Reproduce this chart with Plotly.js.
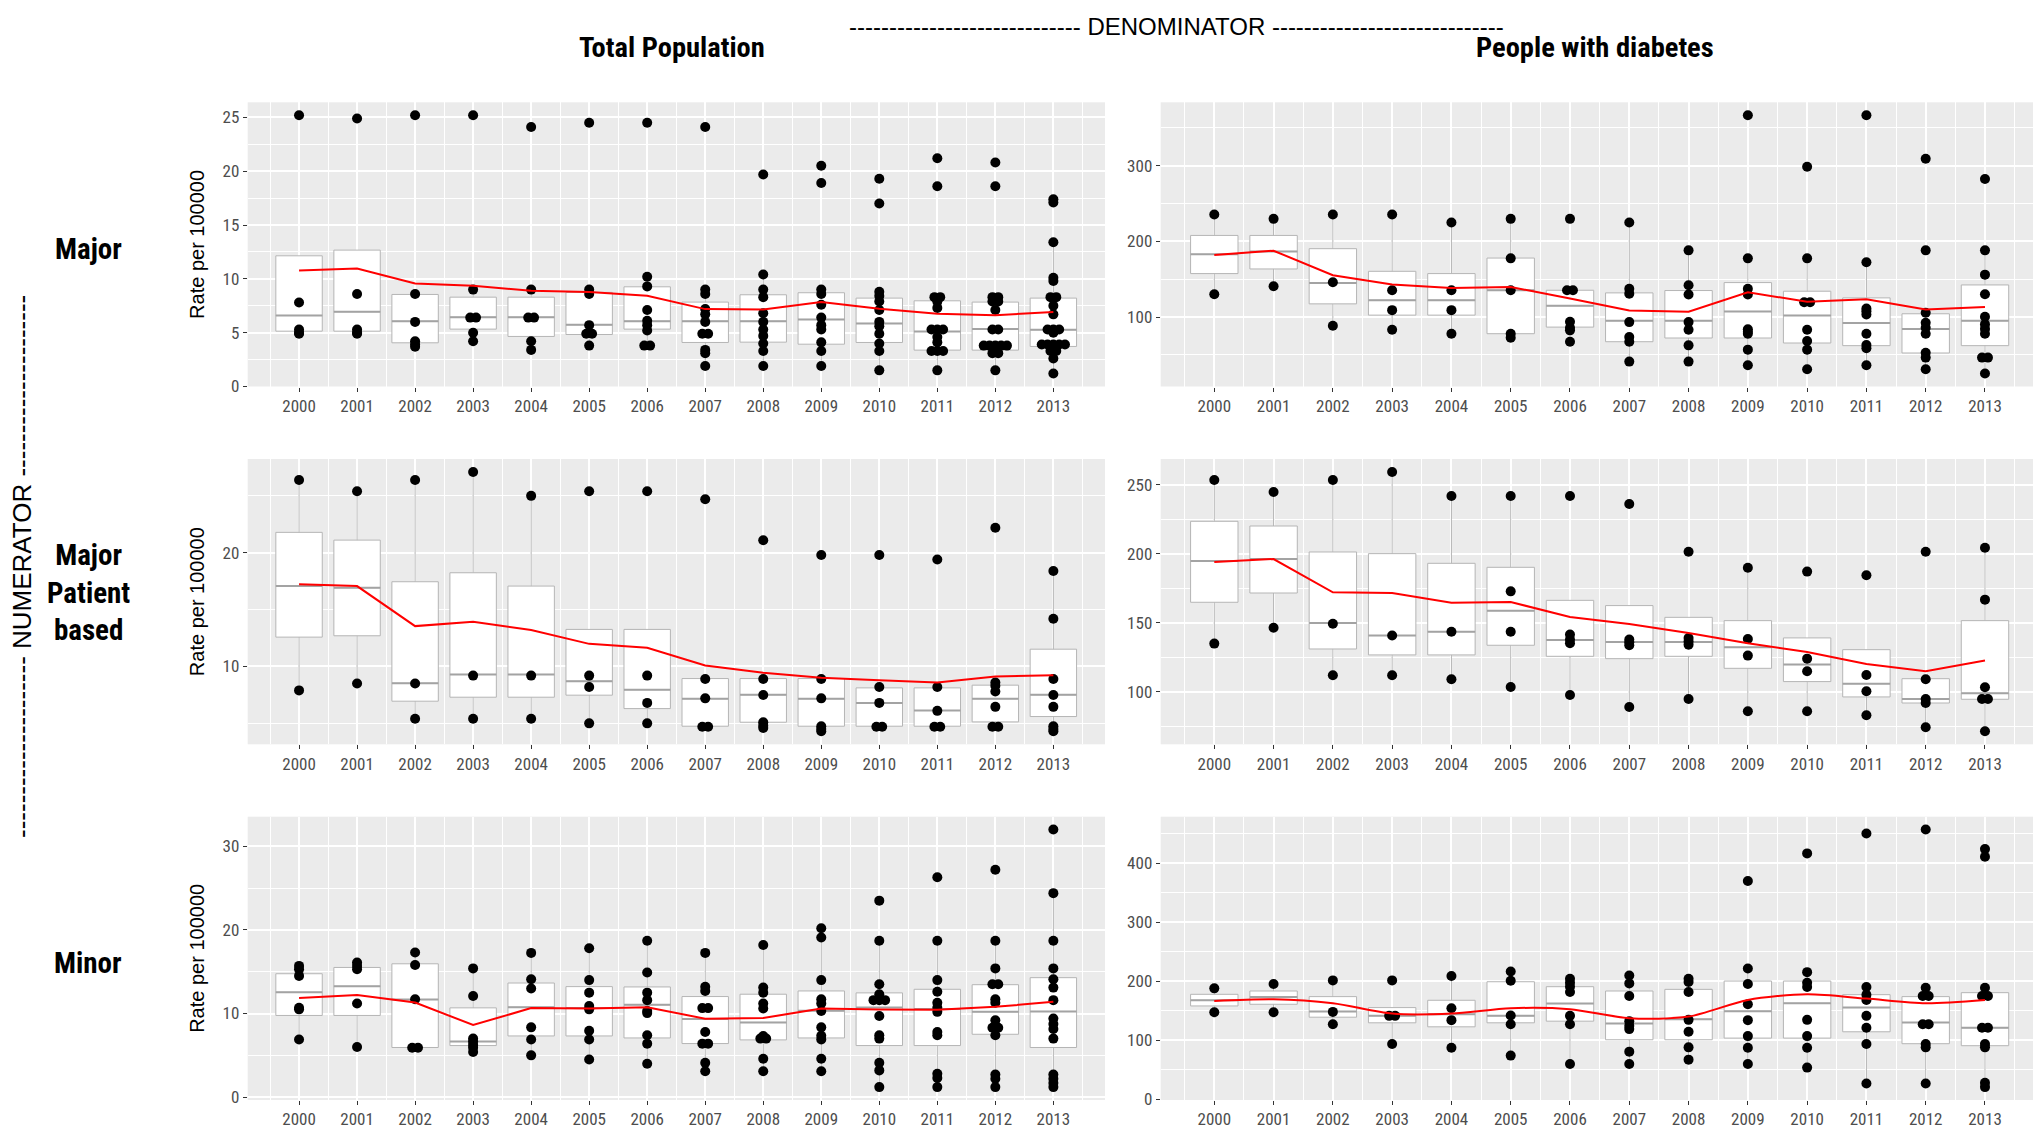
<!DOCTYPE html>
<html><head><meta charset="utf-8">
<script src="https://cdn.plot.ly/plotly-3.0.1.min.js"></script>
<style>html,body{margin:0;padding:0;background:#fff}#chart{width:2033px;height:1129px}</style>
</head><body><div id="chart"></div>
<script>
const years = [2000,2001,2002,2003,2004,2005,2006,2007,2008,2009,2010,2011,2012,2013];

// ---- Total Population / Major
const tl_q1  = [5.14,5.14,4.06,5.33,4.65,4.83,5.33,4.09,4.12,3.93,4.09,3.38,3.38,3.72];
const tl_med = [6.60,6.94,6.07,6.44,6.44,5.73,6.07,6.07,6.07,6.23,5.86,5.11,5.33,5.27];
const tl_q3  = [12.14,12.67,8.55,8.30,8.30,8.74,9.26,7.84,8.52,8.71,8.21,7.96,7.84,8.21];
const tl_mean= [10.78,10.97,9.57,9.36,8.89,8.77,8.43,7.19,7.16,7.84,7.22,6.75,6.63,6.91];
const tl_pts = [
 [25.2,7.8,5.3,5.0,4.9],
 [24.9,8.6,5.3,5.0,4.9],
 [25.2,8.6,6.0,4.2,3.9,3.7],
 [25.2,9.0,6.4,6.4,5.0,4.2],
 [24.1,9.0,6.4,6.4,4.2,3.4],
 [24.5,9.0,8.6,5.7,4.9,4.9,3.8],
 [24.5,10.2,9.3,7.1,6.1,5.7,5.2,3.8,3.8],
 [24.1,9.0,8.6,7.2,6.7,6.0,4.9,4.9,3.4,3.1,1.9],
 [19.7,10.4,9.0,8.3,6.8,6.0,5.3,4.7,4.0,3.3,1.9],
 [20.5,18.9,9.0,8.6,7.6,6.4,5.7,5.3,4.1,3.3,1.9],
 [19.3,17.0,8.8,8.4,7.9,7.1,6.0,5.6,4.9,4.0,3.3,1.5],
 [21.2,18.6,8.3,8.3,7.9,7.3,5.3,5.3,5.3,4.6,4.1,3.3,3.3,3.3,1.5],
 [20.8,18.6,8.3,8.3,7.9,7.9,7.1,5.3,5.3,3.8,3.8,3.8,3.8,3.8,3.1,3.1,1.5],
 [17.4,17.1,13.4,10.1,9.8,8.3,8.3,7.5,6.7,5.3,5.3,5.3,5.0,3.9,3.9,3.9,3.9,3.9,3.3,3.3,2.6,1.2]
];

// ---- People with diabetes / Major
const tr_q1  = [157.5,163.6,117.5,102.6,102.6,78.1,86.8,67.5,72.4,72.4,65.8,62.3,52.6,62.3];
const tr_med = [182.9,186.8,145.2,122.4,122.4,135.5,114.9,95.2,95.2,107.5,102.2,92.1,84.2,95.2];
const tr_q3  = [207.9,207.9,190.4,160.5,157.5,178.0,135.5,132.0,135.1,145.6,134.2,125.4,104.4,142.5];
const tr_mean= [182.0,187.7,155.3,143.0,138.6,139.9,124.6,108.8,107.0,132.9,120.2,123.7,110.1,113.2];
const tr_pts = [
 [235.5,130.3],
 [229.8,140.8],
 [235.5,146.1,88.6],
 [235.5,135.5,109.2,83.3],
 [225.0,135.5,109.2,78.1],
 [229.8,177.6,135.5,78.1,72.8],
 [229.8,135.5,135.5,93.9,86.0,82.5,67.5],
 [225.0,137.3,131.0,93.4,73.7,67.5,41.2],
 [188.2,142.1,129.8,93.4,83.3,62.7,41.2],
 [366.7,177.6,137.3,129.8,83.8,80.7,78.1,57.0,36.4],
 [298.7,177.6,119.7,119.7,83.3,68.4,57.0,31.1],
 [366.7,172.4,111.4,107.9,103.5,78.1,63.2,58.8,36.4],
 [309.2,188.2,105.7,92.5,86.0,78.1,53.0,46.5,31.1],
 [282.5,188.2,156.1,130.3,100.4,90.4,84.2,78.1,46.5,46.5,25.4]
];

// ---- Total Population / Major Patient based
const ml_q1  = [12.58,12.70,6.95,7.30,7.30,7.48,6.30,4.75,5.10,4.75,4.75,4.75,5.13,5.60];
const ml_med = [17.07,16.92,8.53,9.30,9.30,8.71,7.95,7.16,7.51,7.16,6.80,6.13,7.16,7.51];
const ml_q3  = [21.79,21.11,17.45,18.24,17.07,13.26,13.26,8.94,8.94,8.94,8.12,8.12,8.36,11.52];
const ml_mean= [17.24,17.07,13.55,13.93,13.20,11.99,11.64,10.09,9.44,9.00,8.80,8.59,9.12,9.24];
const ml_pts = [
 [26.4,7.9],
 [25.4,8.5],
 [26.4,8.5,5.4],
 [27.1,9.2,5.4],
 [25.0,9.2,5.4],
 [25.4,9.2,8.2,5.0],
 [25.4,9.2,6.8,5.0],
 [24.7,8.9,7.2,4.7,4.7],
 [21.1,8.9,7.5,5.1,4.8,4.6],
 [19.8,8.9,7.2,4.75,4.5,4.3],
 [19.8,8.2,6.8,4.7,4.7],
 [19.4,8.2,6.1,4.7,4.7],
 [22.2,8.6,8.3,7.8,6.45,4.7,4.7],
 [18.4,14.2,8.9,7.5,6.45,4.75,4.5,4.3]
];

// ---- People with diabetes / Major Patient based
const mr_q1  = [164.9,171.6,131.1,126.8,126.8,133.8,125.8,124.1,125.8,117.1,107.5,96.4,92.0,94.7];
const mr_med = [194.8,196.2,149.9,140.8,143.6,158.8,137.6,136.2,136.2,132.3,119.8,106.0,94.9,99.0];
const mr_q3  = [223.5,220.1,201.3,200.1,193.1,190.2,166.3,162.5,154.0,151.6,139.1,130.6,109.6,151.6];
const mr_mean= [194.0,196.2,172.1,171.6,164.6,165.1,154.3,149.2,142.7,135.2,128.9,120.3,115.0,122.7];
const mr_pts = [
 [253.4,135.0],
 [244.7,146.5],
 [253.4,149.4,112.1],
 [259.2,140.8,112.1],
 [241.8,143.6,109.2],
 [241.8,172.8,143.6,103.6],
 [241.8,141.5,137.9,135.2,97.8],
 [236.0,137.9,135.9,133.8,89.1],
 [201.5,139.0,136.6,134.2,94.9],
 [189.9,138.3,126.3,86.0],
 [187.1,124.1,115.0,86.0],
 [184.4,112.3,100.5,83.1],
 [201.5,109.2,94.9,92.0,74.4],
 [204.4,166.8,103.4,94.9,94.9,71.5]
];

// ---- Total Population / Minor
const bl_q1  = [9.77,9.77,5.94,6.17,7.32,7.32,7.08,6.41,6.85,7.08,6.17,6.17,7.52,5.94];
const bl_med = [12.54,13.26,11.67,6.65,10.76,10.65,11.04,9.34,8.94,10.33,10.72,10.53,10.21,10.25];
const bl_q3  = [14.76,15.51,15.95,10.68,13.65,13.22,13.18,12.03,12.31,12.70,12.47,12.90,13.45,14.29];
const bl_mean= [11.87,12.23,11.32,8.63,10.65,10.61,10.76,9.38,9.46,10.61,10.49,10.45,10.80,11.40];
const bl_pts = [
 [15.7,15.3,14.5,10.7,10.5,6.9],
 [16.1,15.7,15.3,11.2,6.0],
 [17.3,15.8,11.7,5.9,5.9],
 [15.4,12.1,7.0,6.65,6.25,5.9,5.4],
 [17.25,14.1,13.0,8.35,6.9,5.0],
 [17.8,14.0,12.5,10.9,10.5,7.95,6.9,4.5],
 [18.7,14.9,12.5,11.6,10.3,10.05,7.4,6.4,4.0],
 [17.25,13.2,12.7,10.65,10.65,7.8,6.4,6.4,4.1,3.1],
 [18.2,13.1,12.5,11.2,10.6,7.3,7.0,7.0,4.6,3.1],
 [20.2,19.1,14.0,11.7,11.2,10.3,8.35,7.35,6.9,4.6,3.1],
 [23.5,18.7,13.5,12.3,11.6,11.6,11.6,9.7,7.4,7.0,4.1,3.2,1.2],
 [26.3,18.7,14.0,12.6,11.3,10.7,10.2,7.8,7.4,2.8,2.3,1.2],
 [27.2,18.7,15.4,13.5,13.5,11.7,11.3,9.2,8.3,8.3,7.4,2.7,2.2,1.2],
 [32.0,24.4,18.7,15.4,14.1,13.1,11.6,9.4,8.75,8.15,7.0,2.7,2.2,1.7,1.2]
];

// ---- People with diabetes / Minor
const br_q1  = [158.4,161.2,139.3,129.8,123.0,129.8,132.6,101.1,101.1,103.9,103.9,114.6,94.4,91.0];
const br_med = [168.0,173.6,148.9,141.6,144.4,141.6,162.4,128.7,136.0,149.4,162.9,155.6,130.3,121.3];
const br_q3  = [178.1,183.7,174.2,155.6,168.0,199.4,191.0,183.7,186.5,200.6,200.6,177.5,174.2,180.9];
const br_mean= [166.9,169.7,162.9,145.5,145.5,154.5,152.8,137.6,140.4,168.5,178.1,170.8,162.9,168.5];
const br_pts = [
 [188.2,147.8],
 [195.5,147.8],
 [201.7,148.3,127.5],
 [201.7,141.6,141.6,93.8],
 [209.0,154.5,134.3,87.6],
 [216.9,201.1,142.1,127.5,74.2],
 [204.5,197.8,191.0,182.0,141.6,127.5,60.1],
 [210.1,196.6,175.3,132.6,124.7,119.1,80.9,60.1],
 [204.5,198.9,182.0,134.8,114.6,88.2,67.4],
 [370.2,221.9,195.5,161.2,134.3,107.3,87.6,60.1],
 [416.9,215.7,197.8,190.4,134.8,107.3,87.6,53.9],
 [450.6,190.4,177.5,168.5,141.6,121.3,93.8,27.0],
 [457.3,189.3,175.3,175.3,127.5,127.5,93.8,88.2,27.0],
 [424.2,411.2,189.3,175.3,175.3,121.3,121.3,93.8,88.2,28.1,20.8]
];

const colHeaders = ['Total Population','People with diabetes'];
const rowHeaders = ['Major','Major<br>Patient<br>based','Minor'];
const yTitle = 'Rate per 100000';

// ---------- build ----------
const NARROW = "'Liberation Sans Narrow','Arial Narrow','Roboto Condensed','Liberation Sans',Arial,sans-serif";
const REG = "'Liberation Sans',Arial,sans-serif";

const panels = [
 {q1:tl_q1,med:tl_med,q3:tl_q3,mean:tl_mean,pts:tl_pts,col:0,row:0,dtick:5,spline:false},
 {q1:tr_q1,med:tr_med,q3:tr_q3,mean:tr_mean,pts:tr_pts,col:1,row:0,dtick:100,spline:false},
 {q1:ml_q1,med:ml_med,q3:ml_q3,mean:ml_mean,pts:ml_pts,col:0,row:1,dtick:10,spline:false},
 {q1:mr_q1,med:mr_med,q3:mr_q3,mean:mr_mean,pts:mr_pts,col:1,row:1,dtick:50,spline:false},
 {q1:bl_q1,med:bl_med,q3:bl_q3,mean:bl_mean,pts:bl_pts,col:0,row:2,dtick:10,spline:false},
 {q1:br_q1,med:br_med,q3:br_q3,mean:br_mean,pts:br_pts,col:1,row:2,dtick:100,spline:true}
];

const W = 2033, H = 1129;
const colPx = [[247.7,1105],[1160.7,2033]];
const colRanges = [[1999.115,2013.89],[1999.096,2013.81]];
const rowPx = [[102.3,386.5],[459,744.3],[816.7,1100]];

const traces = [];
const layout = {
  width: W, height: H, margin:{l:0,r:0,t:0,b:0},
  paper_bgcolor:'#ffffff', plot_bgcolor:'#EBEBEB', showlegend:false,
  font:{family:REG, color:'#000'},
  annotations: []
};

panels.forEach((p, i) => {
  const n = i + 1;
  const xs = n === 1 ? '' : String(n);
  const xa = 'x' + xs, ya = 'y' + xs;
  const lo = [], hi = [];
  years.forEach((yr, k) => {
    const iqr = p.q3[k] - p.q1[k];
    const lf = p.q1[k] - 1.5 * iqr, uf = p.q3[k] + 1.5 * iqr;
    const inside = p.pts[k].filter(v => v >= lf && v <= uf);
    lo.push(Math.min(p.q1[k], ...inside));
    hi.push(Math.max(p.q3[k], ...inside));
  });
  traces.push({type:'box', x:years, q1:p.q1, median:p.med, q3:p.q3, lowerfence:lo, upperfence:hi,
    width:0.8, fillcolor:'#ffffff', line:{color:'#B5B5B5', width:1}, whiskerwidth:0,
    boxpoints:false, hoverinfo:'skip', xaxis:xa, yaxis:ya, showlegend:false});
  const mx = [], my = [];
  years.forEach((yr, k) => { mx.push(yr - 0.4, yr + 0.4, null); my.push(p.med[k], p.med[k], null); });
  traces.push({type:'scatter', mode:'lines', x:mx, y:my, line:{color:'#A3A3A3', width:2},
    hoverinfo:'skip', xaxis:xa, yaxis:ya, showlegend:false});
  const px = [], py = [];
  years.forEach((yr, k) => {
    const groups = new Map();
    p.pts[k].forEach(v => groups.set(v, (groups.get(v) || 0) + 1));
    groups.forEach((cnt, v) => {
      for (let j = 0; j < cnt; j++) { px.push(yr + (j - (cnt - 1) / 2) * 0.1); py.push(v); }
    });
  });
  traces.push({type:'scatter', mode:'markers', x:px, y:py, marker:{color:'#000', size:10},
    hoverinfo:'skip', xaxis:xa, yaxis:ya, showlegend:false});
  traces.push({type:'scatter', mode:'lines', x:years, y:p.mean,
    line:{color:'#FF0000', width:2, shape:p.spline ? 'spline' : 'linear', smoothing:0.8},
    hoverinfo:'skip', xaxis:xa, yaxis:ya, showlegend:false});

  // y range: data extent + 5%
  const all = [].concat(...p.pts, p.q1, p.q3, p.mean);
  const mn = Math.min(...all), mxv = Math.max(...all), pad = 0.05 * (mxv - mn);
  const cp = colPx[p.col], rp = rowPx[p.row];
  layout['xaxis' + xs] = {
    domain:[cp[0] / W, cp[1] / W], range:colRanges[p.col], anchor:ya,
    tickmode:'array', tickvals:years, ticktext:years.map(String),
    ticks:'outside', ticklen:4, tickwidth:1, tickcolor:'#333333',
    showgrid:true, gridcolor:'#ffffff', gridwidth:2, zeroline:false, showline:false,
    tickfont:{family:NARROW, size:17, color:'#4D4D4D'},
    minor:{tickmode:'linear', tick0:1999.5, dtick:1, showgrid:true, gridcolor:'#ffffff', gridwidth:1, ticks:''},
    fixedrange:true
  };
  layout['yaxis' + xs] = {
    domain:[1 - rp[1] / H, 1 - rp[0] / H], range:[mn - pad, mxv + pad], anchor:xa,
    tickmode:'linear', tick0:0, dtick:p.dtick,
    ticks:'outside', ticklen:4, tickwidth:1, tickcolor:'#333333',
    showgrid:true, gridcolor:'#ffffff', gridwidth:2, zeroline:false, showline:false,
    tickfont:{family:NARROW, size:17, color:'#4D4D4D'},
    minor:{tickmode:'linear', tick0:0, dtick:p.dtick / 2, showgrid:true, gridcolor:'#ffffff', gridwidth:1, ticks:''},
    fixedrange:true
  };
  if (p.col === 0) {
    layout['yaxis' + xs].title = {text:yTitle, font:{family:REG, size:20, color:'#000'}, standoff:12};
  }
});

// headers
const dashes = '-'.repeat(29);
layout.annotations.push({text: dashes + ' DENOMINATOR ' + dashes, x:1176 / W, y:1 - 26 / H,
  xref:'paper', yref:'paper', showarrow:false, xanchor:'center', yanchor:'middle',
  font:{family:REG, size:24, color:'#000'}});
const colCenters = [672, 1595];
colHeaders.forEach((t, c) => layout.annotations.push({text:t, x:colCenters[c] / W, y:1 - 48 / H,
  xref:'paper', yref:'paper', showarrow:false, xanchor:'center', yanchor:'middle',
  font:{family:NARROW, size:28.5, color:'#000', weight:'bold'}}));
const rowCenters = [249, 592, 963];
rowHeaders.forEach((t, r) => layout.annotations.push({text:t, x:88 / W, y:1 - rowCenters[r] / H,
  xref:'paper', yref:'paper', showarrow:false, xanchor:'center', yanchor:'middle', align:'center',
  font:{family:NARROW, size:29, color:'#000', weight:'bold'}}));
const vd = '-'.repeat(21);
layout.annotations.push({text: vd + ' NUMERATOR ' + vd, x:22 / W, y:1 - 567 / H,
  xref:'paper', yref:'paper', showarrow:false, xanchor:'center', yanchor:'middle', textangle:-90,
  font:{family:REG, size:26, color:'#000'}});

Plotly.newPlot('chart', traces, layout, {staticPlot:true, displayModeBar:false});
</script></body></html>
